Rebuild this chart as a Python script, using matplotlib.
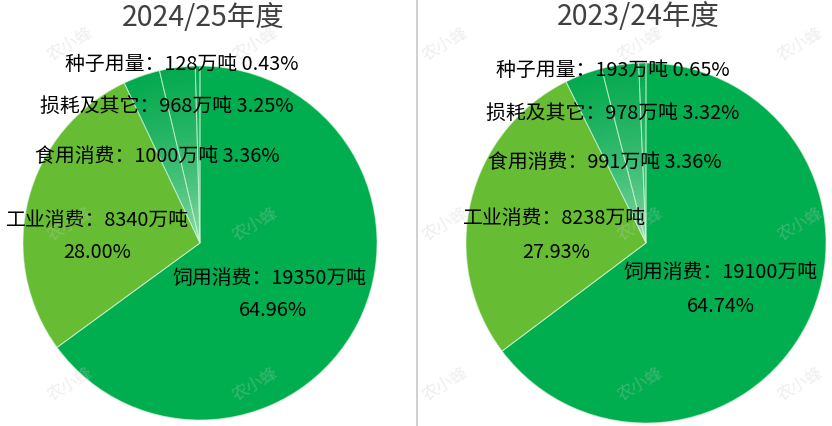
import numpy as np
import matplotlib
matplotlib.use('Agg')
import matplotlib.pyplot as plt
from matplotlib.colors import to_rgb

plt.rcParams['font.family'] = ['Noto Sans CJK SC', 'DejaVu Sans']

categories = ['饲用消费', '工业消费', '食用消费', '损耗及其它', '种子用量']
titles = ['2024/25年度', '2023/24年度']
vals_2425 = [19350, 8340, 1000, 968, 128]
pcts_2425 = ['64.96%', '28.00%', '3.36%', '3.25%', '0.43%']
vals_2324 = [19100, 8238, 991, 978, 193]
pcts_2324 = ['64.74%', '27.93%', '3.36%', '3.32%', '0.65%']

col_feed = '#00ae4f'
col_ind = '#66bd33'
grad_out = to_rgb('#04a94f')
grad_in = to_rgb('#d4f5d8')

W, H = 832, 426
fig = plt.figure(figsize=(W / 100, H / 100), dpi=100)
ax = fig.add_axes([0, 0, 1, 1])

# pie centre (px from top-left), radius, and label positions
panels = [
    dict(cx=200, cy=243, r=177, tx=203, ty=18,
         lab=[(270, 278, 273, 310), (98, 220, 97, 252), (157, 156), (167, 106), (182, 64)]),
    dict(cx=646, cy=243, r=180, tx=638, ty=17,
         lab=[(721, 272, 721, 307), (555, 218, 556, 252), (605, 163), (613, 113), (613, 70)]),
]

fs = 14.3
for p, vals, pcts, title in zip(panels, [vals_2425, vals_2324], [pcts_2425, pcts_2324], titles):
    c = (p['cx'], H - p['cy'])
    ax.pie(vals, colors=[col_feed, col_ind, 'none', 'none', 'none'], startangle=90,
           counterclock=False, radius=p['r'], center=c,
           wedgeprops=dict(edgecolor='none'))
    # gradient fill for the three small slices
    n = 40
    for k in range(n):
        f = 1 - k / n
        t = f ** 0.4
        g = tuple(grad_in[i] + (grad_out[i] - grad_in[i]) * t for i in range(3))
        ax.pie(vals, colors=['none', 'none', g, g, g], startangle=90,
               counterclock=False, radius=p['r'] * f, center=c,
               wedgeprops=dict(edgecolor='none', linewidth=0))
    # thin light separators
    ax.pie(vals, colors=['none'] * 5, startangle=90, counterclock=False,
           radius=p['r'], center=c,
           wedgeprops=dict(edgecolor=(0.85, 0.97, 0.85, 0.6), linewidth=0.7))

    ax.text(p['tx'], H - p['ty'], title, ha='center', va='center', fontsize=20.5, color='#404040')
    for i in range(5):
        if i < 2:
            x1, y1, x2, y2 = p['lab'][i]
            ax.text(x1, H - y1, f'{categories[i]}：{vals[i]}万吨', ha='center', va='center',
                    fontsize=fs, color='black')
            ax.text(x2, H - y2, pcts[i], ha='center', va='center', fontsize=fs, color='black')
        else:
            x1, y1 = p['lab'][i]
            ax.text(x1, H - y1, f'{categories[i]}：{vals[i]}万吨 {pcts[i]}', ha='center',
                    va='center', fontsize=fs, color='black')

# faint watermarks
for wx in [70, 255, 445, 640, 800]:
    for wy in [45, 225, 385]:
        ax.text(wx, H - wy, '农小蜂', rotation=30, ha='center', va='center', fontsize=12,
                color='#c8c8c8', alpha=0.3)

# divider
ax.plot([417, 417], [0, H], color='#c8c8c8', lw=1.2)

ax.set_xlim(0, W)
ax.set_ylim(0, H)
ax.set_aspect('auto')
ax.axis('off')
fig.savefig('out.png', dpi=100)
